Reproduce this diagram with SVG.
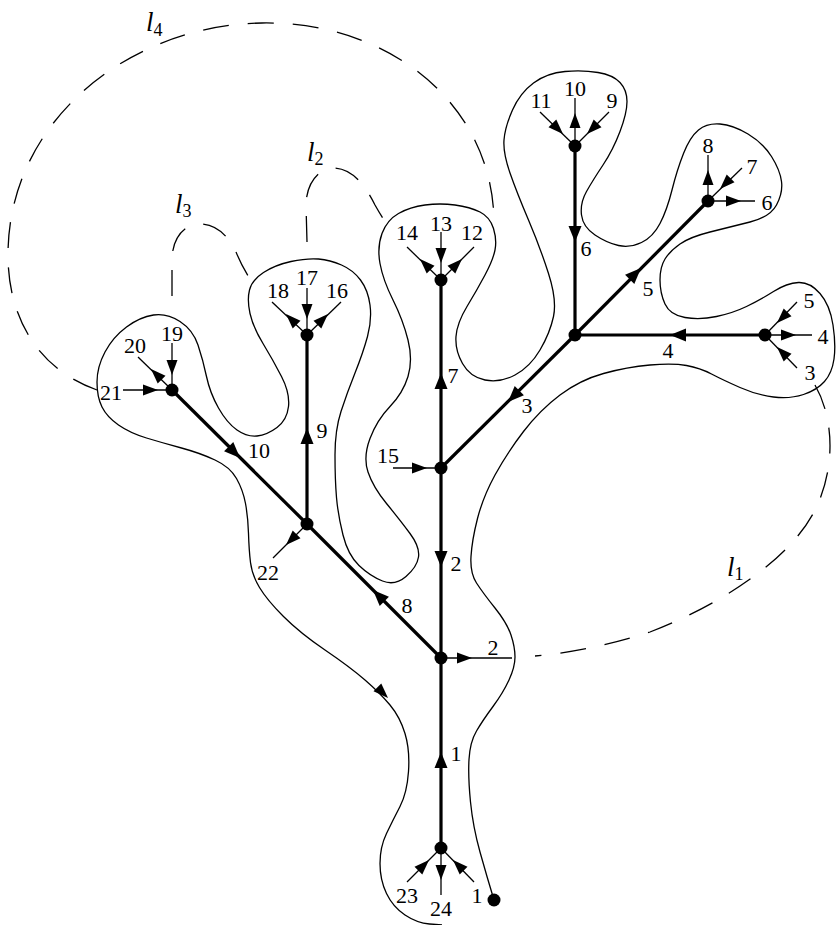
<svg xmlns="http://www.w3.org/2000/svg" xmlns:xlink="http://www.w3.org/1999/xlink" width="836" height="925" viewBox="0 0 836 925">
<style>
.thick{stroke:#000;stroke-width:3.2;fill:none}
.thin{stroke:#000;stroke-width:1.3;fill:none}
.curve{stroke:#000;stroke-width:1.3;fill:none}
.dash{stroke:#000;stroke-width:1.3;fill:none;stroke-dasharray:26 19}
.dot{fill:#000}
text{font-family:"Liberation Serif","DejaVu Serif",serif;font-size:22px;text-anchor:middle;fill:#000}
.ll{text-anchor:start;font-size:27px}
</style>
<defs>
<path id="ah" d="M0,0 L-16,-6.5 L-16,6.5 Z" fill="#000"/>
<path id="as" d="M0,0 L-15,-5.5 L-15,5.5 Z" fill="#000"/>
</defs>
<rect width="836" height="925" fill="#fff"/>

<g id="loops">
<path class="curve" d="M 494,900 Q 487,877 480,852 Q 473,827 470.5,802 Q 468,777 469,759.5 Q 470,742 476.5,731 Q 483,720 493,706.5 Q 503,693 509,680 Q 515,667 515,657 Q 515,647 511,635 Q 507,623 495,608 Q 483,593 476.5,583 Q 470,573 471,556.5 Q 472,540 477.5,518.5 Q 483,497 495,475 Q 507,453 523.5,431.5 Q 540,410 560,395 Q 580,380 603.5,373.5 Q 627,367 650,365 Q 673,363 686.5,365.5 Q 700,368 711.5,374 Q 723,380 740,387.5 Q 757,395 773.5,397 Q 790,399 803.5,394.5 Q 817,390 824.5,381.5 Q 832,373 834,359 Q 836,345 833,325 Q 830,305 820,293.5 Q 810,282 798.5,282.5 Q 787,283 773.5,291.5 Q 760,300 746.5,306.5 Q 733,313 716.5,316.5 Q 700,320 685,317.5 Q 670,315 665,304 Q 660,293 660,280 Q 660,267 665,259 Q 670,251 680,244 Q 690,237 710,232 Q 730,227 750,222 Q 770,217 776.5,205 Q 783,193 781.5,181.5 Q 780,170 771.5,156.5 Q 763,143 748,134 Q 733,125 720,124 Q 707,123 698.5,130 Q 690,137 683.5,153.5 Q 677,170 672,190 Q 667,210 660,223.5 Q 653,237 641.5,242.5 Q 630,248 618.5,245.5 Q 607,243 595,235 Q 583,227 581.5,215 Q 580,203 586.5,191.5 Q 593,180 603,165 Q 613,150 620,131.5 Q 627,113 627,101.5 Q 627,90 620,82.5 Q 613,75 598,72.5 Q 583,70 565,71.5 Q 547,73 533.5,83 Q 520,93 512.5,110 Q 505,127 504,140 Q 503,153 510,173 Q 517,193 528.5,220 Q 540,247 548.5,273.5 Q 557,300 553.5,316.5 Q 550,333 540,350 Q 530,367 515,375 Q 500,383 485,380 Q 470,377 462.5,363.5 Q 455,350 456,336.5 Q 457,323 467,306.5 Q 477,290 485,275 Q 493,260 495,250 Q 497,240 493.5,228.5 Q 490,217 480,212 Q 470,207 455,205 Q 440,203 425,205 Q 410,207 398.5,213.5 Q 387,220 382,233.5 Q 377,247 380,263.5 Q 383,280 393,300 Q 403,320 408,340 Q 413,360 408,376.5 Q 403,393 390,406.5 Q 377,420 370,438.5 Q 363,457 368,472 Q 373,487 386.5,503.5 Q 400,520 410,533.5 Q 420,547 418.5,557 Q 417,567 406,576.5 Q 395,586 382.5,581 Q 370,576 359,565.5 Q 348,555 343,535 Q 338,515 336.5,497.5 Q 335,480 335,455 Q 335,430 341,411.5 Q 347,393 355,373 Q 363,353 367.5,336.5 Q 372,320 370,305 Q 368,290 360.5,280 Q 353,270 341.5,265 Q 330,260 318.5,259 Q 307,258 291,261.5 Q 275,265 263.5,272.5 Q 252,280 249.5,290 Q 247,300 250,313.5 Q 253,327 263,343.5 Q 273,360 281.5,376.5 Q 290,393 288.5,406.5 Q 287,420 277,427.5 Q 267,435 257,436 Q 247,437 237,430 Q 227,423 218.5,408 Q 210,393 206.5,376.5 Q 203,360 198,345 Q 193,330 180,321.5 Q 167,313 153.5,315 Q 140,317 126.5,327 Q 113,337 105,352 Q 97,367 97,382 Q 97,397 102,407 Q 107,417 118.5,425 Q 130,433 146.5,438 Q 163,443 181.5,448 Q 200,453 215,460 Q 230,467 236.5,478.5 Q 243,490 245.5,503.5 Q 248,517 248.5,533.5 Q 249,550 250.5,562.5 Q 252,575 259.5,587.5 Q 267,600 283.5,616.5 Q 300,633 325,650 Q 350,667 365,680 Q 380,693 390,705 Q 400,717 405,733.5 Q 410,750 408.5,771.5 Q 407,793 400,806.5 Q 393,820 386.5,833.5 Q 380,847 380,863.5 Q 380,880 386.5,893.5 Q 393,907 405,915 Q 417,923 429.5,924 L 442,925"/>
<use xlink:href="#as" href="#as" transform="translate(388,698) rotate(45)"/>
<circle class="dot" cx="494" cy="900" r="6.5"/>
<path class="dash" d="M 97,390 C 40,370 8,320 8,255 C 8,120 130,25 262,23 C 390,21 493,105 494,222"/>
<path class="dash" d="M 307,242 L 306,205 C 306,185 318,168 333,168 C 352,168 365,185 375,205 C 380,214 384,220 388,226"/>
<path class="dash" d="M 172,296 L 172,260 C 172,240 183,225 198,224 C 215,223 228,235 236,252 C 240,262 246,273 252,282"/>
<path class="dash" d="M 815,385 C 835,420 835,470 815,510 C 790,560 720,605 650,632 C 610,645 570,653 535,656"/>
<text class="ll" x="146" y="31"><tspan font-style="italic">l</tspan><tspan font-size="18" dy="5">4</tspan></text>
<text class="ll" x="307" y="161"><tspan font-style="italic">l</tspan><tspan font-size="18" dy="4">2</tspan></text>
<text class="ll" x="175" y="213"><tspan font-style="italic">l</tspan><tspan font-size="18" dy="4">3</tspan></text>
<text class="ll" x="727" y="576"><tspan font-style="italic">l</tspan><tspan font-size="18" dy="4">1</tspan></text>
</g>

<g id="connectors">
<line class="thick" x1="441" y1="848" x2="441" y2="658"/>
<line class="thick" x1="441" y1="658" x2="441" y2="468"/>
<line class="thick" x1="441" y1="468" x2="441" y2="280"/>
<line class="thick" x1="441" y1="468" x2="575" y2="335"/>
<line class="thick" x1="575" y1="335" x2="575" y2="146"/>
<line class="thick" x1="575" y1="335" x2="708" y2="201"/>
<line class="thick" x1="765" y1="335" x2="575" y2="335"/>
<line class="thick" x1="441" y1="658" x2="307" y2="524"/>
<line class="thick" x1="307" y1="524" x2="172" y2="390"/>
<line class="thick" x1="307" y1="524" x2="307" y2="335"/>
<use href="#ah" transform="translate(441,752) rotate(-90)"/>
<use href="#ah" transform="translate(441,567) rotate(90)"/>
<use href="#ah" transform="translate(441,373) rotate(-90)"/>
<use href="#ah" transform="translate(508,402) rotate(135)"/>
<use href="#ah" transform="translate(575,242) rotate(90)"/>
<use href="#ah" transform="translate(641,268) rotate(-45)"/>
<use href="#ah" transform="translate(670,335) rotate(180)"/>
<use href="#ah" transform="translate(373,590) rotate(-135)"/>
<use href="#ah" transform="translate(240,458) rotate(45)"/>
<use href="#ah" transform="translate(307,428) rotate(-90)"/>
<text x="456" y="761">1</text>
<text x="456" y="571">2</text>
<text x="453" y="383">7</text>
<text x="527" y="413">3</text>
<text x="586" y="256">6</text>
<text x="648" y="296">5</text>
<text x="668" y="358">4</text>
<text x="407" y="613">8</text>
<text x="259" y="458">10</text>
<text x="322" y="438">9</text>
</g>

<g id="nA">
<line class="thin" x1="407" y1="882" x2="441" y2="848"/>
<line class="thin" x1="441" y1="848" x2="441" y2="895"/>
<line class="thin" x1="474" y1="882" x2="441" y2="848"/>
<use href="#as" transform="translate(429,860) rotate(-45)"/>
<use href="#as" transform="translate(441,880) rotate(90)"/>
<use href="#as" transform="translate(453,860) rotate(-135)"/>
<circle class="dot" cx="441" cy="848" r="6.5"/>
<text x="407" y="903">23</text>
<text x="441" y="916">24</text>
<text x="477" y="903">1</text>
</g>

<g id="nB">
<line class="thin" x1="441" y1="658" x2="512" y2="658"/>
<use href="#as" transform="translate(472,658)"/>
<circle class="dot" cx="441" cy="658" r="6.5"/>
<text x="493" y="655">2</text>
</g>

<g id="nC">
<line class="thin" x1="393" y1="468" x2="441" y2="468"/>
<use href="#as" transform="translate(427,468)"/>
<circle class="dot" cx="441" cy="468" r="6.5"/>
<text x="388" y="463">15</text>
</g>

<g id="nD">
<line class="thin" x1="441" y1="232" x2="441" y2="280"/>
<line class="thin" x1="407" y1="247" x2="441" y2="280"/>
<line class="thin" x1="474" y1="247" x2="441" y2="280"/>
<use href="#as" transform="translate(441,263) rotate(90)"/>
<use href="#as" transform="translate(420,259) rotate(-135)"/>
<use href="#as" transform="translate(462,259) rotate(-45)"/>
<circle class="dot" cx="441" cy="280" r="6.5"/>
<text x="407" y="240">14</text>
<text x="441" y="231">13</text>
<text x="472" y="240">12</text>
</g>

<g id="nE">
<circle class="dot" cx="575" cy="335" r="6.5"/>
</g>

<g id="nF">
<line class="thin" x1="575" y1="98" x2="575" y2="146"/>
<line class="thin" x1="540" y1="112" x2="575" y2="146"/>
<line class="thin" x1="609" y1="112" x2="575" y2="146"/>
<use href="#as" transform="translate(575,113) rotate(-90)"/>
<use href="#as" transform="translate(563,134) rotate(45)"/>
<use href="#as" transform="translate(587,134) rotate(135)"/>
<circle class="dot" cx="575" cy="146" r="6.5"/>
<text x="541" y="108">11</text>
<text x="575" y="96">10</text>
<text x="612" y="108">9</text>
</g>

<g id="nG">
<line class="thin" x1="708" y1="155" x2="708" y2="201"/>
<line class="thin" x1="742" y1="168" x2="708" y2="201"/>
<line class="thin" x1="708" y1="201" x2="755" y2="201"/>
<use href="#as" transform="translate(708,170) rotate(-90)"/>
<use href="#as" transform="translate(720,189) rotate(135)"/>
<use href="#as" transform="translate(741,201)"/>
<circle class="dot" cx="708" cy="201" r="6.5"/>
<text x="708" y="153">8</text>
<text x="752" y="174">7</text>
<text x="767" y="210">6</text>
</g>

<g id="nH">
<line class="thin" x1="797" y1="302" x2="765" y2="335"/>
<line class="thin" x1="765" y1="335" x2="812" y2="335"/>
<line class="thin" x1="797" y1="368" x2="765" y2="335"/>
<use href="#as" transform="translate(777,323) rotate(135)"/>
<use href="#as" transform="translate(796,335)"/>
<use href="#as" transform="translate(777,347) rotate(-135)"/>
<circle class="dot" cx="765" cy="335" r="6.5"/>
<text x="809" y="308">5</text>
<text x="823" y="344">4</text>
<text x="810" y="380">3</text>
</g>

<g id="nI">
<line class="thin" x1="307" y1="524" x2="273" y2="558"/>
<use href="#as" transform="translate(286,545) rotate(135)"/>
<circle class="dot" cx="307" cy="524" r="6.5"/>
<text x="268" y="580">22</text>
</g>

<g id="nJ">
<line class="thin" x1="307" y1="288" x2="307" y2="335"/>
<line class="thin" x1="272" y1="302" x2="307" y2="335"/>
<line class="thin" x1="341" y1="302" x2="307" y2="335"/>
<use href="#as" transform="translate(307,319) rotate(90)"/>
<use href="#as" transform="translate(286,314) rotate(-135)"/>
<use href="#as" transform="translate(328,314) rotate(-45)"/>
<circle class="dot" cx="307" cy="335" r="6.5"/>
<text x="278" y="298">18</text>
<text x="307" y="285">17</text>
<text x="337" y="298">16</text>
</g>

<g id="nK">
<line class="thin" x1="172" y1="343" x2="172" y2="390"/>
<line class="thin" x1="138" y1="357" x2="172" y2="390"/>
<line class="thin" x1="123" y1="390" x2="172" y2="390"/>
<use href="#as" transform="translate(172,375) rotate(90)"/>
<use href="#as" transform="translate(151,369) rotate(-135)"/>
<use href="#as" transform="translate(158,390)"/>
<circle class="dot" cx="172" cy="390" r="6.5"/>
<text x="135" y="353">20</text>
<text x="172" y="341">19</text>
<text x="111" y="400">21</text>
</g>
</svg>
